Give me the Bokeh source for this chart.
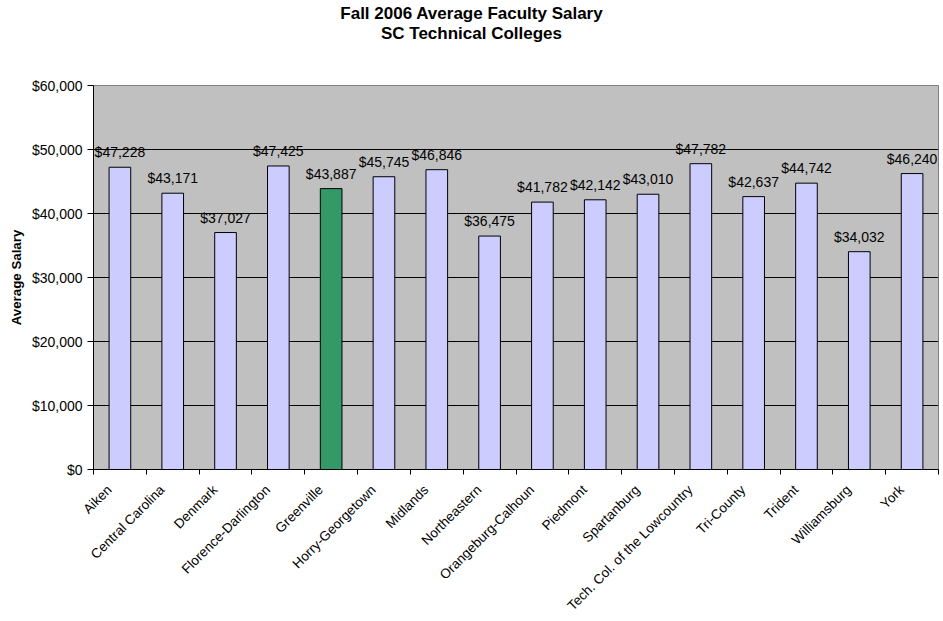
import numpy as np
from bokeh.plotting import figure
from bokeh.layouts import column
from bokeh.models import (ColumnDataSource, Range1d, FixedTicker, NumeralTickFormatter, Div)
from bokeh.core.properties import value
from bokeh.embed import file_html
from bokeh.resources import INLINE

colleges = ["Aiken", "Central Carolina", "Denmark", "Florence-Darlington", "Greenville",
            "Horry-Georgetown", "Midlands", "Northeastern", "Orangeburg-Calhoun", "Piedmont",
            "Spartanburg", "Tech. Col. of the Lowcountry", "Tri-County", "Trident",
            "Williamsburg", "York"]
salaries = [47228, 43171, 37027, 47425, 43887, 45745, 46846, 36475, 41782, 42142,
            43010, 47782, 42637, 44742, 34032, 46240]
highlight = "Greenville"
y_ticks = [0, 10000, 20000, 30000, 40000, 50000, 60000]

FONT = "Liberation Sans"
n = len(colleges)
centers = [i + 0.5 for i in range(n)]
bounds = [float(i) for i in range(n + 1)]
# label anchors nudged left so rotated text ends where Excel puts it
label_pos = [c - 0.2 for c in centers]
fills = ["#339966" if c == highlight else "#CCCCFF" for c in colleges]
labels = ["${:,}".format(v) for v in salaries]

src = ColumnDataSource(dict(x=centers, y=salaries, fill=fills, label=labels, name=colleges))

title = Div(
    text=('<div style="width:943px;text-align:center;font-family:\'Liberation Sans\',Arial,sans-serif;'
          'font-weight:bold;font-size:17px;line-height:20px;color:#000;padding-top:4px;">'
          'Fall 2006 Average Faculty Salary<br>SC Technical Colleges</div>'),
    width=943, height=44, margin=(0, 0, 0, 0))

p = figure(width=943, height=577, output_backend="svg", toolbar_location=None,
           x_range=Range1d(0, n), y_range=Range1d(0, 60000),
           min_border_left=93, min_border_right=5, min_border_top=41, min_border_bottom=152)

p.background_fill_color = "#C0C0C0"
p.border_fill_color = "white"
p.outline_line_color = "#808080"
p.outline_line_width = 1

p.vbar(x="x", top="y", width=0.41, bottom=0, source=src,
       fill_color="fill", line_color="black", line_width=1)

p.text(x="x", y="y", text="label", source=src, text_align="center", text_baseline="middle",
       y_offset=-15, text_font=value(FONT), text_font_size="14px", text_color="black")

# x axis
p.xaxis.ticker = FixedTicker(ticks=label_pos, minor_ticks=bounds)
p.xaxis.major_label_overrides = {c: name for c, name in zip(label_pos, colleges)}
p.xaxis.major_label_orientation = np.pi / 4
p.xaxis.major_tick_line_color = None
p.xaxis.major_tick_out = 0
p.xaxis.major_tick_in = 0
p.xaxis.minor_tick_line_color = "black"
p.xaxis.minor_tick_out = 5
p.xaxis.minor_tick_in = 0
p.xaxis.major_label_standoff = 13
p.xaxis.major_label_text_font = FONT
p.xaxis.major_label_text_font_size = "13.5px"
p.xaxis.major_label_text_color = "black"
p.xaxis.axis_line_color = "black"

# y axis
p.yaxis.ticker = FixedTicker(ticks=y_ticks)
p.yaxis.formatter = NumeralTickFormatter(format="$0,0")
p.yaxis.major_tick_out = 6
p.yaxis.major_tick_in = 0
p.yaxis.minor_tick_line_color = None
p.yaxis.major_tick_line_color = "black"
p.yaxis.axis_line_color = "black"
p.yaxis.major_label_standoff = 5
p.yaxis.major_label_text_font = FONT
p.yaxis.major_label_text_font_size = "14px"
p.yaxis.major_label_text_color = "black"
p.yaxis.axis_label = "Average Salary"
p.yaxis.axis_label_text_font = FONT
p.yaxis.axis_label_text_font_size = "13.3px"
p.yaxis.axis_label_text_font_style = "bold"
p.yaxis.axis_label_text_color = "black"
p.yaxis.axis_label_standoff = 5

p.xgrid.grid_line_color = None
p.ygrid.ticker = FixedTicker(ticks=y_ticks)
p.ygrid.grid_line_color = "black"
p.ygrid.grid_line_width = 1

layout = column(title, p, spacing=0)
open("out.html", "w").write(file_html(layout, INLINE))
